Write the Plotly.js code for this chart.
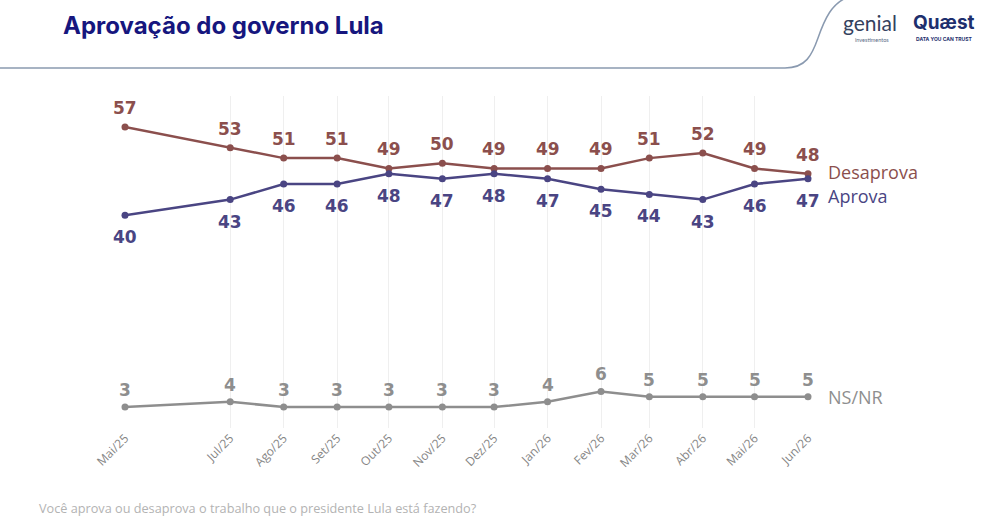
<!DOCTYPE html>
<html>
<head>
<meta charset="utf-8">
<script src="https://cdn.plot.ly/plotly-3.0.1.min.js"></script>
<style>
  html, body { margin: 0; padding: 0; background: #ffffff; }
  #chart { width: 984px; height: 528px; }
</style>
</head>
<body>
<div id="chart"></div>
<script>
// ---- Data ----
const dates = ['2025-05-01','2025-07-01','2025-08-01','2025-09-01','2025-10-01','2025-11-01','2025-12-01',
               '2026-01-01','2026-02-01','2026-03-01','2026-04-01','2026-05-01','2026-06-01'];
const tickLabels = ['Mai/25','Jul/25','Ago/25','Set/25','Out/25','Nov/25','Dez/25',
                    'Jan/26','Fev/26','Mar/26','Abr/26','Mai/26','Jun/26'];
const desaprova = [57, 53, 51, 51, 49, 50, 49, 49, 49, 51, 52, 49, 48];
const aprova    = [40, 43, 46, 46, 48, 47, 48, 47, 45, 44, 43, 46, 47];
const nsnr      = [3, 4, 3, 3, 3, 3, 3, 4, 6, 5, 5, 5, 5];
const seriesNames = ['Desaprova', 'Aprova', 'NS/NR'];

// ---- Styling ----
const W = 984, H = 528;
const M = {l: 125, r: 176, t: 96, b: 100};
const pw = W - M.l - M.r, ph = H - M.t - M.b;
const px = x => (x - M.l) / pw;
const py = y => (H - M.b - y) / ph;

const cDes = '#8b4f4d', cApr = '#4a4583', cNs = '#8e8e8e';
const labelFont = {family: 'DejaVu Sans, sans-serif', size: 17, weight: 'bold'};

function series(y, color, name) {
  return {
    x: dates, y: y, name: name, type: 'scatter', mode: 'lines+markers',
    line: {color: color, width: 2.5},
    marker: {color: color, size: 7},
    cliponaxis: false, hoverinfo: 'skip'
  };
}

const traces = [
  series(desaprova, cDes, seriesNames[0]),
  series(aprova, cApr, seriesNames[1]),
  series(nsnr, cNs, seriesNames[2])
];

function valueLabels(y, color, shift) {
  return y.map((v, i) => ({
    x: dates[i], y: v, xref: 'x', yref: 'y', text: String(v), showarrow: false,
    xanchor: 'center', yanchor: 'middle', yshift: shift,
    font: Object.assign({}, labelFont, {color: color})
  }));
}

const headerPath = 'M ' + px(0) + ',' + py(68) +
  ' L ' + px(785) + ',' + py(68) +
  ' C ' + px(806) + ',' + py(68) + ' ' + px(812) + ',' + py(55) + ' ' + px(818) + ',' + py(38) +
  ' C ' + px(825) + ',' + py(18) + ' ' + px(832) + ',' + py(4) + ' ' + px(846) + ',' + py(-2);

const textAnnotations = [
  {text: 'Aprovação do governo Lula', x: px(61), y: py(25), xanchor: 'left', yanchor: 'middle',
   font: {family: 'Inter, Roboto, sans-serif', size: 24, weight: 'bold', color: '#16167e'}},
  {text: 'genial', x: px(870), y: py(23), xanchor: 'center', yanchor: 'middle',
   font: {family: 'Lato, sans-serif', size: 21, color: '#34415e'}},
  {text: 'investimentos', x: px(872), y: py(40), xanchor: 'center', yanchor: 'middle',
   font: {family: 'Lato, sans-serif', size: 5.5, color: '#5a6a85'}},
  {text: 'Quæst', x: px(944), y: py(23), xanchor: 'center', yanchor: 'middle',
   font: {family: 'Inter, sans-serif', size: 19, weight: 'bold', color: '#1e2f6e'}},
  {text: 'DATA YOU CAN TRUST', x: px(944), y: py(39), xanchor: 'center', yanchor: 'middle',
   font: {family: 'Inter, sans-serif', size: 5, weight: 'bold', color: '#1e2f6e'}},
  {text: 'Desaprova', x: px(826), y: py(172), xanchor: 'left', yanchor: 'middle',
   font: {family: 'Open Sans, sans-serif', size: 18, color: cDes}},
  {text: 'Aprova', x: px(826), y: py(196), xanchor: 'left', yanchor: 'middle',
   font: {family: 'Open Sans, sans-serif', size: 18, color: cApr}},
  {text: 'NS/NR', x: px(826), y: py(397), xanchor: 'left', yanchor: 'middle',
   font: {family: 'Open Sans, sans-serif', size: 18, color: cNs}},
  {text: 'Você aprova ou desaprova o trabalho que o presidente Lula está fazendo?',
   x: px(37), y: py(508), xanchor: 'left', yanchor: 'middle',
   font: {family: 'Open Sans, sans-serif', size: 12.7, color: '#b3b3b3'}}
].map(a => Object.assign({xref: 'paper', yref: 'paper', showarrow: false}, a));

const annotations = textAnnotations
  .concat(valueLabels(desaprova, cDes, 19))
  .concat(valueLabels(aprova, cApr, -22))
  .concat(valueLabels(nsnr, cNs, 17));

const layout = {
  width: W, height: H,
  margin: M,
  paper_bgcolor: '#ffffff', plot_bgcolor: '#ffffff',
  showlegend: false,
  xaxis: {
    type: 'date', range: ['2025-05-01', '2026-06-01'],
    tickmode: 'array', tickvals: dates, ticktext: tickLabels,
    tickangle: -45, tickfont: {family: 'Open Sans, sans-serif', size: 12, color: '#858585'},
    showgrid: true, gridcolor: '#efefef', gridwidth: 1,
    zeroline: false, showline: false, ticks: '', fixedrange: true
  },
  yaxis: {
    range: [-1.05, 62.98], visible: false, showgrid: false, zeroline: false, fixedrange: true
  },
  shapes: [{type: 'path', xref: 'paper', yref: 'paper', path: headerPath,
            line: {color: '#8a9ab0', width: 1.5}}],
  annotations: annotations
};

Plotly.newPlot('chart', traces, layout, {displayModeBar: false, staticPlot: true});
</script>
</body>
</html>
